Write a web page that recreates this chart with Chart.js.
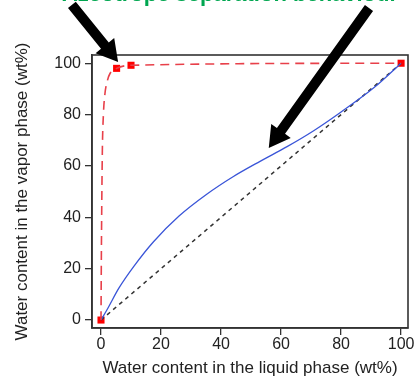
<!DOCTYPE html>
<html>
<head>
<meta charset="utf-8">
<script src="https://cdn.jsdelivr.net/npm/chart.js@4.4.1/dist/chart.umd.min.js"></script>
<style>
  html, body { margin: 0; padding: 0; background: #fff; }
  #wrap { width: 416px; height: 379px; }
</style>
</head>
<body>
<div id="wrap"><canvas id="chart" width="416" height="379"></canvas></div>
<script>
// values (wt% water)
const xTicks = [0, 20, 40, 60, 80, 100];
const yTicks = [0, 20, 40, 60, 80, 100];

// measured points (red squares)
const markX = [0, 5.2, 10, 100];
const markY = [0, 98, 99.2, 100];

// red dashed fit through the measured points
const redX = [0, 0.15, 0.45, 0.8, 1.3, 2.2, 3, 5.2, 10, 100];
const redY = [0, 30, 66, 80, 88, 93.5, 96, 98, 99.2, 100];

// blue curve
const blueX = [0, 2, 6, 11, 17.5, 26, 35, 44, 53, 62, 71, 80, 91, 100];
const blueY = [0, 4, 12.5, 21, 30.5, 40.5, 48.8, 55.8, 61.8, 67.5, 73.8, 81, 90.5, 100];

// y = x reference
const diagX = [0, 100];
const diagY = [0, 100];

// annotation arrows, in data units: [tailX, tailY, tipX, tipY]
const arrows = [
    [-9.7, 122.7, 5.7, 100.5],
    [89.3, 121.5, 55.9, 67]
];

const headline = 'Azeotrope separation behaviour';

function pts(xs, ys) {
    return xs.map((x, i) => ({ x: x, y: ys[i] }));
}

const frame = {
    id: 'frame',
    afterDatasetsDraw(chart) {
        const { ctx, chartArea: a, scales } = chart;
        ctx.save();
        ctx.strokeStyle = '#333';
        ctx.lineWidth = 1.6;
        ctx.strokeRect(a.left, a.top, a.right - a.left, a.bottom - a.top);

        // arrows
        ctx.fillStyle = '#000';
        arrows.forEach(ar => {
            const x0 = scales.x.getPixelForValue(ar[0]);
            const y0 = scales.y.getPixelForValue(ar[1]);
            const x1 = scales.x.getPixelForValue(ar[2]);
            const y1 = scales.y.getPixelForValue(ar[3]);
            const ang = Math.atan2(y1 - y0, x1 - x0);
            const len = Math.hypot(x1 - x0, y1 - y0);
            const head = 21, hw = 12, sw = 5;
            ctx.save();
            ctx.translate(x0, y0);
            ctx.rotate(ang);
            ctx.beginPath();
            ctx.moveTo(0, -sw);
            ctx.lineTo(len - head, -sw);
            ctx.lineTo(len - head, -hw);
            ctx.lineTo(len, 0);
            ctx.lineTo(len - head, hw);
            ctx.lineTo(len - head, sw);
            ctx.lineTo(0, sw);
            ctx.closePath();
            ctx.fill();
            ctx.restore();
        });

        // headline, clipped at the top edge
        ctx.fillStyle = '#00a650';
        ctx.font = 'bold 22px "Liberation Sans", Arial, sans-serif';
        ctx.textAlign = 'center';
        ctx.textBaseline = 'alphabetic';
        ctx.fillText(headline, 230, 1);
        ctx.restore();
    }
};

const tickFont = { family: '"Liberation Sans", Arial, sans-serif', size: 16 };
const titleFont = { family: '"Liberation Sans", Arial, sans-serif', size: 17 };

new Chart(document.getElementById('chart'), {
    type: 'scatter',
    data: {
        datasets: [
            {
                data: pts(redX, redY),
                showLine: true,
                borderColor: '#e8404a',
                borderWidth: 1.6,
                borderDash: [9, 6],
                pointRadius: 0,
                cubicInterpolationMode: 'monotone'
            },
            {
                data: pts(blueX, blueY),
                showLine: true,
                borderColor: '#3a55d8',
                borderWidth: 1.3,
                pointRadius: 0,
                cubicInterpolationMode: 'monotone'
            },
            {
                data: pts(diagX, diagY),
                showLine: true,
                borderColor: '#333',
                borderWidth: 1.5,
                borderDash: [4, 4],
                pointRadius: 0
            },
            {
                data: pts(markX, markY),
                showLine: false,
                pointStyle: 'rect',
                pointRadius: 5,
                backgroundColor: '#ff0000',
                borderColor: '#ff0000',
                borderWidth: 0
            }
        ]
    },
    options: {
        responsive: false,
        animation: false,
        layout: { padding: { top: 55, right: 8, left: 0, bottom: 0 } },
        plugins: { legend: { display: false }, tooltip: { enabled: false } },
        scales: {
            x: {
                type: 'linear',
                min: -3,
                max: 102.3,
                afterBuildTicks: s => { s.ticks = xTicks.map(v => ({ value: v })); },
                afterFit: s => { s.height = 51; },
                grid: { drawOnChartArea: false, drawTicks: true, tickLength: 7, color: '#333', lineWidth: 1.3 },
                border: { display: true, color: '#333', width: 1.6 },
                ticks: { color: '#222', font: tickFont, padding: 0, maxRotation: 0 },
                title: { display: true, text: 'Water content in the liquid phase (wt%)', color: '#222', font: titleFont, padding: { top: 0, bottom: 0 } }
            },
            y: {
                type: 'linear',
                min: -3.1,
                max: 103.2,
                afterBuildTicks: s => { s.ticks = yTicks.map(v => ({ value: v })); },
                afterFit: s => { s.width = 92; },
                grid: { drawOnChartArea: false, drawTicks: true, tickLength: 7, color: '#333', lineWidth: 1.3 },
                border: { display: true, color: '#333', width: 1.6 },
                ticks: { color: '#222', font: tickFont, padding: 4 },
                title: { display: true, text: 'Water content in the vapor phase (wt%)', color: '#222', font: titleFont, padding: { top: 12, bottom: 8 } }
            }
        }
    },
    plugins: [frame]
});
</script>
</body>
</html>
